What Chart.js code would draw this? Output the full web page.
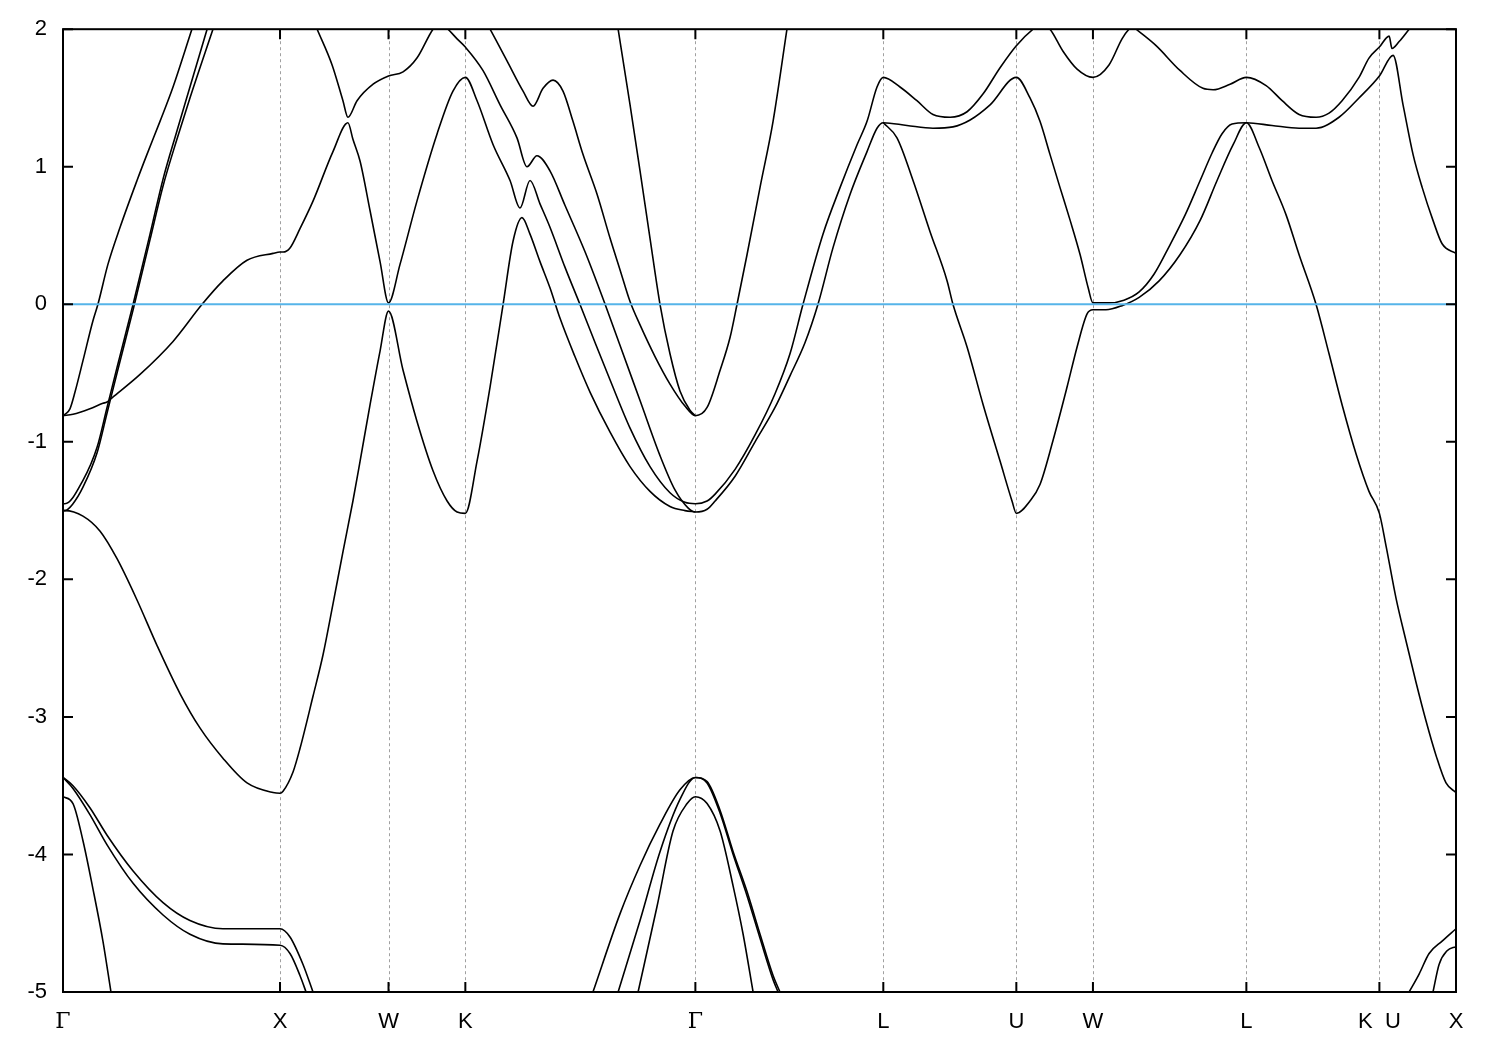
<!DOCTYPE html>
<html>
<head>
<meta charset="utf-8">
<script src="https://cdn.jsdelivr.net/npm/chart.js@4.4.1/dist/chart.umd.min.js"></script>
<style>
  body { margin: 0; background: #fff; }
  #wrap { width: 1500px; height: 1050px; }
</style>
</head>
<body>
<div id="wrap"><canvas id="chart" width="1500" height="1050"></canvas></div>
<script>
// k-path: high symmetry points and labels
const kPos = [0, 1.0, 1.5, 1.854, 2.914, 3.780, 4.393, 4.746, 5.453, 6.066, 6.419];
const kLabels = ["Γ", "X", "W", "K", "Γ", "L", "U", "W", "L", "K  U", "X"];
const eTicks = [2, 1, 0, -1, -2, -3, -4, -5];
const eMin = -5, eMax = 2;

// bands, [k, E]
const band1 = [[0,-0.81],[0.009,-0.80],[0.032,-0.76],[0.055,-0.64],[0.092,-0.41],[0.138,-0.12],[0.161,0],[0.207,0.29],[0.263,0.56],[0.341,0.90],[0.387,1.09],[0.447,1.33],[0.507,1.58],[0.594,2.0]];
const band2 = [[0,-0.81],[0.046,-0.80],[0.124,-0.76],[0.184,-0.72],[0.203,-0.71],[0.226,-0.68],[0.355,-0.51],[0.507,-0.27],[0.641,0],[0.737,0.17],[0.848,0.32],[0.968,0.37],[1.0,0.38],[1.014,0.38],[1.046,0.41],[1.092,0.55],[1.152,0.75],[1.244,1.11],[1.313,1.32],[1.336,1.20],[1.369,1.04],[1.415,0.68],[1.461,0.31],[1.5,0.01],[1.553,0.29],[1.631,0.75],[1.724,1.24],[1.797,1.55],[1.854,1.65],[1.908,1.48],[1.982,1.16],[2.060,0.90],[2.106,0.70],[2.152,0.90],[2.198,0.73],[2.244,0.56],[2.313,0.27],[2.382,0.0],[2.452,-0.28],[2.521,-0.55],[2.613,-0.90],[2.705,-1.18],[2.797,-1.37],[2.866,-1.44],[2.914,-1.45],[2.968,-1.43],[3.005,-1.38],[3.097,-1.20],[3.189,-0.95],[3.281,-0.65],[3.350,-0.36],[3.410,0],[3.502,0.51],[3.581,0.85],[3.659,1.16],[3.705,1.33],[3.751,1.58],[3.780,1.65],[3.857,1.58],[3.935,1.48],[4.009,1.38],[4.088,1.36],[4.166,1.40],[4.240,1.53],[4.318,1.72],[4.393,1.88],[4.470,2.0],[4.51,2.04],[4.548,2.0],[4.608,1.84],[4.673,1.71],[4.746,1.65],[4.820,1.74],[4.880,1.93],[4.912,2.0],[4.93,2.02],[4.945,2.0],[5.037,1.88],[5.147,1.70],[5.253,1.57],[5.300,1.56],[5.378,1.60],[5.453,1.65],[5.544,1.59],[5.618,1.48],[5.696,1.38],[5.774,1.36],[5.834,1.39],[5.894,1.48],[5.972,1.65],[6.018,1.79],[6.066,1.87],[6.111,1.95],[6.124,1.86],[6.157,1.91],[6.203,2.0]];
const band3 = [[1.171,2.0],[1.240,1.74],[1.290,1.48],[1.313,1.36],[1.355,1.48],[1.429,1.60],[1.5,1.66],[1.567,1.69],[1.631,1.79],[1.705,2.0],[1.737,2.05],[1.774,2.0],[1.816,1.93],[1.854,1.87],[1.935,1.70],[2.014,1.45],[2.092,1.21],[2.138,1.0],[2.184,1.08],[2.244,0.97],[2.313,0.72],[2.406,0.38],[2.498,0.0],[2.567,-0.30],[2.659,-0.70],[2.751,-1.10],[2.820,-1.35],[2.880,-1.48],[2.914,-1.51],[2.968,-1.49],[3.005,-1.43],[3.097,-1.25],[3.189,-1.0],[3.281,-0.75],[3.350,-0.52],[3.419,-0.28],[3.479,0],[3.548,0.41],[3.627,0.80],[3.705,1.11],[3.751,1.28],[3.780,1.32],[3.889,1.30],[4.009,1.28],[4.101,1.29],[4.180,1.34],[4.272,1.45],[4.393,1.65],[4.456,1.50],[4.502,1.33],[4.548,1.09],[4.594,0.85],[4.641,0.61],[4.687,0.36],[4.724,0.12],[4.746,0.01],[4.820,0.01],[4.889,0.03],[4.959,0.09],[5.028,0.22],[5.097,0.42],[5.171,0.65],[5.240,0.90],[5.295,1.10],[5.341,1.24],[5.387,1.31],[5.453,1.32],[5.571,1.30],[5.696,1.28],[5.774,1.28],[5.880,1.36],[5.972,1.50],[6.066,1.66],[6.129,1.81],[6.175,1.45],[6.221,1.09],[6.263,0.85],[6.313,0.61],[6.355,0.44],[6.419,0.37]];
const band4 = [[0,-1.50],[0.009,-1.50],[0.092,-1.54],[0.171,-1.65],[0.249,-1.85],[0.341,-2.15],[0.433,-2.48],[0.539,-2.83],[0.631,-3.08],[0.737,-3.30],[0.848,-3.48],[0.968,-3.55],[1.0,-3.555],[1.014,-3.54],[1.060,-3.40],[1.092,-3.23],[1.152,-2.85],[1.198,-2.55],[1.244,-2.18],[1.290,-1.80],[1.336,-1.43],[1.369,-1.14],[1.415,-0.73],[1.461,-0.34],[1.5,-0.05],[1.567,-0.48],[1.631,-0.85],[1.705,-1.21],[1.770,-1.43],[1.816,-1.51],[1.854,-1.52],[1.908,-1.14],[1.968,-0.60],[2.028,0.0],[2.074,0.46],[2.115,0.63],[2.152,0.51],[2.198,0.31],[2.244,0.12],[2.290,-0.10],[2.359,-0.38],[2.429,-0.64],[2.521,-0.93],[2.613,-1.18],[2.705,-1.36],[2.797,-1.47],[2.866,-1.50],[2.914,-1.51]];
const band5 = [[3.780,1.32],[3.843,1.21],[3.917,0.90],[3.995,0.53],[4.074,0.17],[4.101,0.0],[4.166,-0.31],[4.240,-0.73],[4.318,-1.14],[4.373,-1.43],[4.393,-1.52],[4.456,-1.43],[4.502,-1.31],[4.562,-0.99],[4.627,-0.60],[4.673,-0.31],[4.719,-0.07],[4.746,-0.04],[4.806,-0.04],[4.880,-0.01],[4.959,0.05],[5.051,0.17],[5.147,0.36],[5.240,0.61],[5.318,0.90],[5.392,1.16],[5.453,1.32],[5.512,1.14],[5.571,0.90],[5.636,0.65],[5.696,0.36],[5.774,0.0],[5.834,-0.36],[5.894,-0.73],[5.959,-1.09],[6.018,-1.36],[6.066,-1.52],[6.097,-1.76],[6.143,-2.14],[6.189,-2.45],[6.235,-2.75],[6.281,-3.03],[6.327,-3.28],[6.373,-3.48],[6.419,-3.55]];
const band6 = [[0,-1.45],[0.009,-1.45],[0.092,-1.28],[0.157,-1.04],[0.203,-0.75],[0.249,-0.46],[0.323,0],[0.401,0.51],[0.461,0.91],[0.525,1.26],[0.585,1.58],[0.664,2.0]];
const band7 = [[0,-1.50],[0.009,-1.50],[0.046,-1.45],[0.092,-1.33],[0.157,-1.08],[0.203,-0.79],[0.249,-0.50],[0.323,-0.04],[0.401,0.47],[0.461,0.86],[0.525,1.20],[0.585,1.50],[0.691,2.0]];
const band8 = [[1.968,2.0],[2.046,1.77],[2.120,1.55],[2.166,1.44],[2.212,1.57],[2.258,1.63],[2.304,1.55],[2.350,1.33],[2.396,1.09],[2.461,0.80],[2.521,0.48],[2.567,0.25],[2.613,0.02],[2.659,-0.15],[2.728,-0.38],[2.797,-0.58],[2.866,-0.74],[2.914,-0.81],[2.968,-0.75],[3.028,-0.48],[3.074,-0.24],[3.106,0],[3.152,0.36],[3.212,0.85],[3.272,1.33],[3.336,2.0]];
const band9 = [[2.558,2.0],[2.613,1.45],[2.659,0.97],[2.705,0.48],[2.751,0.0],[2.797,-0.36],[2.843,-0.63],[2.889,-0.77],[2.914,-0.81]];
const band10 = [[0,-3.44],[0.046,-3.50],[0.124,-3.66],[0.203,-3.86],[0.323,-4.12],[0.461,-4.35],[0.585,-4.48],[0.737,-4.54],[1.0,-4.54],[1.046,-4.60],[1.106,-4.80],[1.152,-5.0]];
const band11 = [[0,-3.44],[0.046,-3.52],[0.124,-3.71],[0.203,-3.93],[0.323,-4.21],[0.461,-4.44],[0.585,-4.58],[0.737,-4.65],[1.0,-4.66],[1.046,-4.72],[1.092,-4.88],[1.120,-5.0]];
const band12 = [[0,-3.58],[0.046,-3.63],[0.092,-3.90],[0.138,-4.25],[0.184,-4.63],[0.221,-5.0]];
const band13 = [[2.442,-5.0],[2.567,-4.43],[2.659,-4.08],[2.751,-3.78],[2.843,-3.53],[2.914,-3.44],[2.968,-3.47],[3.028,-3.68],[3.088,-3.98],[3.152,-4.27],[3.212,-4.58],[3.272,-4.88],[3.304,-5.0]];
const band14 = [[2.558,-5.0],[2.659,-4.48],[2.751,-3.98],[2.843,-3.60],[2.914,-3.44],[2.968,-3.48],[3.028,-3.70],[3.088,-4.00],[3.152,-4.30],[3.212,-4.61],[3.272,-4.91],[3.295,-5.0]];
const band15 = [[2.650,-5.0],[2.737,-4.38],[2.811,-3.83],[2.876,-3.63],[2.914,-3.58],[2.968,-3.63],[3.028,-3.83],[3.088,-4.23],[3.134,-4.58],[3.180,-5.0]];
const band16 = [[6.203,-5.0],[6.249,-4.87],[6.295,-4.72],[6.355,-4.63],[6.419,-4.54]];
const band17 = [[6.313,-5.0],[6.341,-4.80],[6.378,-4.70],[6.419,-4.67]];
const fermi = [[0, 0], [6.419, 0]];

const bands = [band1, band2, band3, band4, band5, band6, band7, band8, band9,
               band10, band11, band12, band13, band14, band15, band16, band17];

const toXY = arr => arr.map(p => ({x: p[0], y: p[1]}));

// frame, inward ticks and dashed lines at the symmetry points
const framePlugin = {
  id: "frame",
  beforeDatasetsDraw(chart) {
    const {ctx, chartArea: a, scales} = chart;
    ctx.save();
    ctx.strokeStyle = "#a0a0a0";
    ctx.lineWidth = 1;
    ctx.setLineDash([3, 3]);
    kPos.slice(1, -1).forEach(k => {
      const px = Math.round(scales.x.getPixelForValue(k)) + 0.5;
      ctx.beginPath();
      ctx.moveTo(px, a.top);
      ctx.lineTo(px, a.bottom);
      ctx.stroke();
    });
    ctx.restore();
  },
  afterDatasetsDraw(chart) {
    const {ctx, chartArea: a, scales} = chart;
    ctx.save();
    ctx.strokeStyle = "#000";
    ctx.lineWidth = 2;
    ctx.strokeRect(a.left, a.top, a.right - a.left, a.bottom - a.top);
    ctx.beginPath();
    kPos.forEach(k => {
      const px = scales.x.getPixelForValue(k);
      ctx.moveTo(px, a.bottom); ctx.lineTo(px, a.bottom - 10);
      ctx.moveTo(px, a.top); ctx.lineTo(px, a.top + 10);
    });
    eTicks.forEach(e => {
      const py = scales.y.getPixelForValue(e);
      ctx.moveTo(a.left, py); ctx.lineTo(a.left + 10, py);
      ctx.moveTo(a.right, py); ctx.lineTo(a.right - 10, py);
    });
    ctx.stroke();
    ctx.restore();
  }
};

const datasets = [{
  data: toXY(fermi),
  borderColor: "#56b4e9",
  borderWidth: 2
}].concat(bands.map(b => ({
  data: toXY(b),
  borderColor: "#000",
  borderWidth: 1.6,
  cubicInterpolationMode: "monotone"
})));

new Chart(document.getElementById("chart"), {
  type: "line",
  data: {datasets: datasets},
  options: {
    responsive: false,
    animation: false,
    events: [],
    layout: {padding: {top: 28, right: 44, bottom: 0, left: 0}},
    elements: {point: {radius: 0}, line: {fill: false}},
    datasets: {line: {clip: 0}},
    plugins: {legend: {display: false}, tooltip: {enabled: false}},
    scales: {
      x: {
        type: "linear",
        min: 0,
        max: kPos[kPos.length - 1],
        grid: {display: false, drawTicks: false},
        border: {display: false},
        afterFit: s => { s.height = 58; },
        afterBuildTicks: s => { s.ticks = kPos.map(v => ({value: v})); },
        ticks: {
          autoSkip: false,
          maxRotation: 0,
          padding: 17,
          color: "#000",
          font: c => ({
            family: kLabels[c.index] === "Γ" ? "DejaVu Serif" : "Liberation Sans",
            size: 22
          }),
          callback: (v, i) => kLabels[i]
        }
      },
      y: {
        min: eMin,
        max: eMax,
        grid: {display: false, drawTicks: false},
        border: {display: false},
        afterFit: s => { s.width = 63; },
        afterBuildTicks: s => { s.ticks = eTicks.map(v => ({value: v})); },
        ticks: {
          padding: 16,
          color: "#000",
          font: {family: "Liberation Sans", size: 22}
        }
      }
    }
  },
  plugins: [framePlugin]
});
</script>
</body>
</html>
